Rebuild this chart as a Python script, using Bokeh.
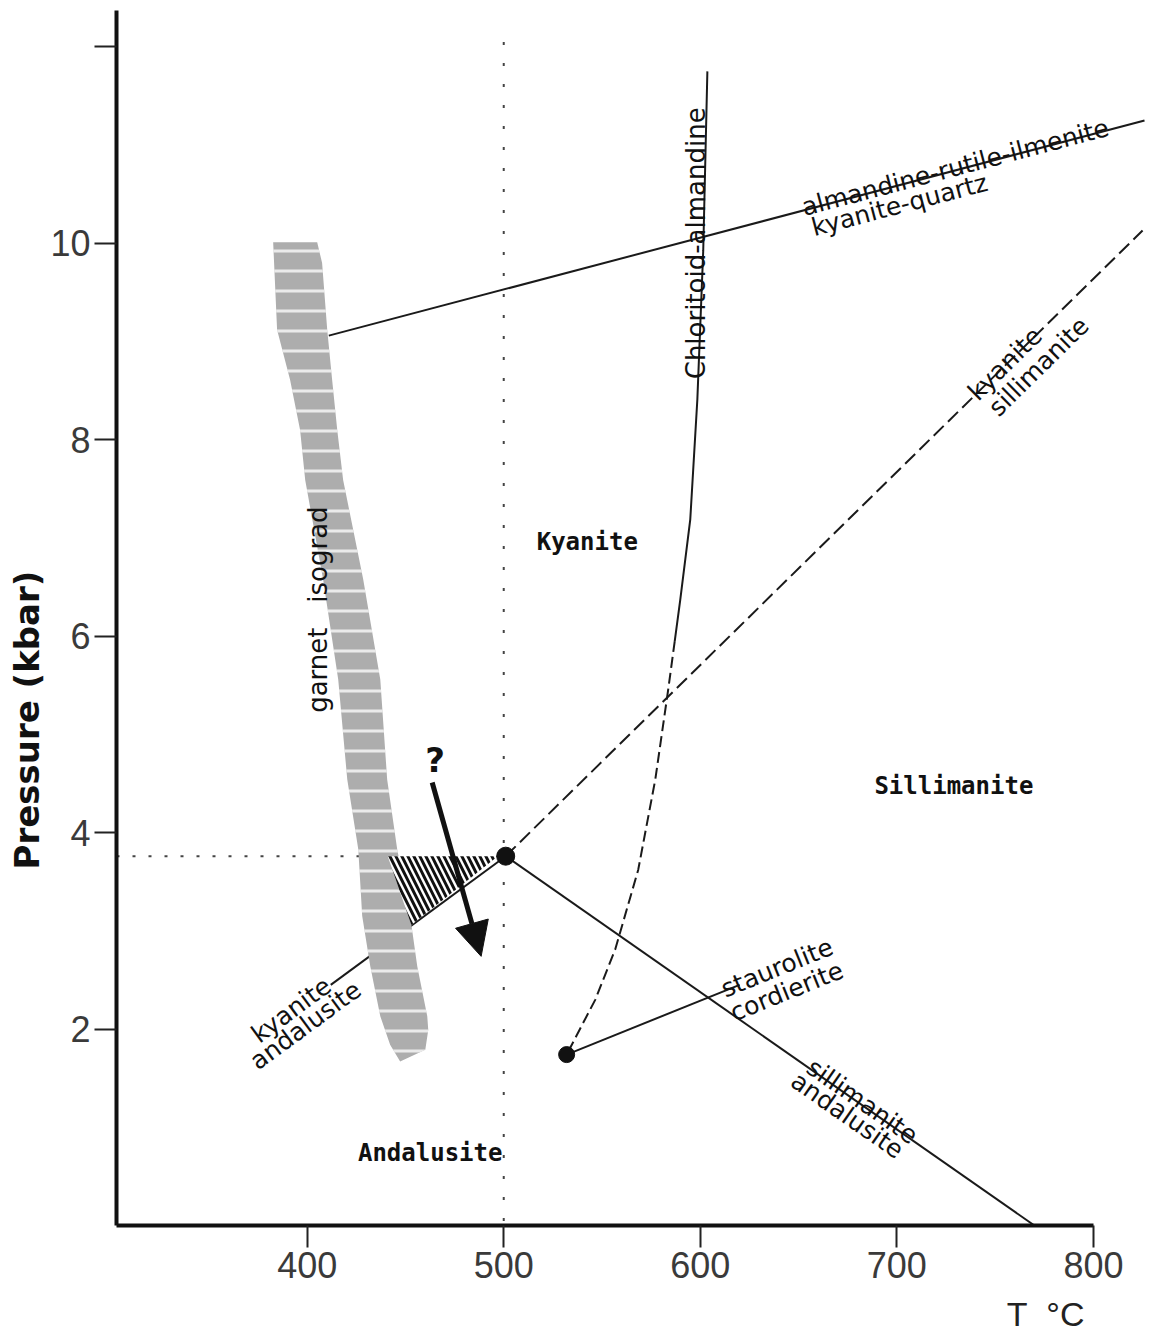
import numpy as np
from bokeh.plotting import figure
from bokeh.models import FixedTicker, Arrow, NormalHead, Range1d, Title
from bokeh.core.properties import value
from bokeh.embed import file_html
from bokeh.resources import INLINE

# ---------------- data (T in °C, P in kbar) ----------------
x_ticks = [400, 500, 600, 700, 800]
y_ticks = [2, 4, 6, 8, 10, 12]

triple_T = [501]
triple_P = [3.76]
lower_T = [532]
lower_P = [1.74]

ky_sil_T = [501, 825]
ky_sil_P = [3.76, 10.13]
sil_and_T = [501, 770]
sil_and_P = [3.76, 0.0]
ky_and_T = [501, 412]
ky_and_P = [3.76, 2.45]
grail_T = [411, 826]
grail_P = [9.06, 11.25]
st_crd_T = [532, 620]
st_crd_P = [1.74, 2.45]

chl_solid_T = [603.6, 601.5, 598.5, 594.9, 589.8, 587.0]
chl_solid_P = [11.75, 9.93, 8.41, 7.19, 6.37, 5.95]
chl_dash_T = [587.0, 583.7, 577.1, 568.4, 556.7, 546.6, 532.0]
chl_dash_P = [5.95, 5.46, 4.54, 3.62, 2.81, 2.30, 1.74]

band_T = [382.7, 384.7, 391.3, 396.4, 399.0, 408.1, 415.8, 420.4, 426.0, 428.0, 432.1,
          437.2, 442.2, 447.3, 460.1, 461.6, 461.1, 456.0, 452.4, 445.8, 440.7, 437.2,
          428.5, 418.3, 415.3, 412.7, 410.2, 407.6, 405.1]
band_P = [10.01, 9.12, 8.61, 8.10, 7.59, 6.58, 5.56, 4.54, 3.83, 3.15, 2.64,
          2.13, 1.84, 1.67, 1.79, 1.99, 2.13, 2.64, 3.15, 3.83, 4.54, 5.56,
          6.58, 7.59, 8.10, 8.61, 9.12, 9.80, 10.01]

hatch_T = [441, 497, 453]
hatch_P = [3.76, 3.76, 3.06]

dot_v_T = [500, 500]
dot_v_P = [12.05, 0.0]
dot_h_T = [303, 441]
dot_h_P = [3.76, 3.76]

arrow_T = [463.6, 488.5]
arrow_P = [4.51, 2.74]

# ---------------- figure ----------------
X0, X1, Y0, Y1 = 303, 827, 0, 12.37
FW, FH = 1030, 1215
sx = FW / (X1 - X0)
sy = FH / (Y1 - Y0)

p = figure(frame_width=FW, frame_height=FH, x_range=Range1d(X0, X1), y_range=Range1d(Y0, Y1),
           output_backend="svg", toolbar_location=None,
           min_border_left=116, min_border_right=2, min_border_top=10, min_border_bottom=112)
p.outline_line_color = None
p.grid.visible = False
p.background_fill_color = "white"
p.border_fill_color = "white"

for ax in (p.xaxis[0], p.yaxis[0]):
    ax.axis_line_width = 4
    ax.axis_line_color = "#111111"
    ax.major_tick_line_width = 2
    ax.major_tick_line_color = "#222222"
    ax.major_tick_out = 22
    ax.major_tick_in = 0
    ax.minor_tick_line_color = None
    ax.major_label_text_font = "Liberation Sans"
    ax.major_label_text_font_size = "36px"
    ax.major_label_text_color = "#3a3a3a"
    ax.major_label_standoff = 4

p.xaxis.ticker = FixedTicker(ticks=x_ticks)
p.xaxis.bounds = (303, 800)
p.yaxis.ticker = FixedTicker(ticks=y_ticks)
p.yaxis.major_label_overrides = {12: ""}

# axis titles, placed like the original (y title low on the axis, x title at right)
p.add_layout(Title(text="Pressure (kbar)", align="left", offset=356,
                   text_font="DejaVu Sans", text_font_size="34px", text_font_style="bold",
                   text_color="#111111", standoff=2), "left")
p.add_layout(Title(text="T\u00a0\u00a0°C", align="right", offset=62,
                   text_font="Liberation Sans", text_font_size="34px", text_font_style="normal",
                   text_color="#222222", standoff=24), "below")

LC = "#1a1a1a"

def ang(T0, P0, T1, P1):
    return np.arctan2((P1 - P0) * sy, (T1 - T0) * sx)

def on_line(Ts, Ps, T):
    return Ps[0] + (Ps[1] - Ps[0]) * (T - Ts[0]) / (Ts[1] - Ts[0])

# dotted guides
p.line(dot_v_T, dot_v_P, line_color="#444444", line_width=2, line_dash="3 18")
p.line(dot_h_T, dot_h_P, line_color="#444444", line_width=2, line_dash="3 13")

# reaction lines
p.line(ky_and_T, ky_and_P, line_color=LC, line_width=2)
p.line(sil_and_T, sil_and_P, line_color=LC, line_width=2)
p.line(ky_sil_T, ky_sil_P, line_color=LC, line_width=2, line_dash="14 6")
p.line(grail_T, grail_P, line_color=LC, line_width=2)
p.line(st_crd_T, st_crd_P, line_color=LC, line_width=2)
p.line(chl_solid_T, chl_solid_P, line_color=LC, line_width=2)
p.line(chl_dash_T, chl_dash_P, line_color=LC, line_width=2, line_dash="11 5")

# garnet isograd band
p.patch(band_T, band_P, fill_color="#adadad", line_color=None,
        hatch_pattern="-", hatch_color="white", hatch_weight=3, hatch_scale=20, hatch_alpha=0.75)

# hatched triangle
p.patch(hatch_T, hatch_P, fill_color="white", line_color=None,
        hatch_pattern="\\", hatch_color="#111111", hatch_weight=3, hatch_scale=12)

# points
p.scatter(triple_T, triple_P, size=18, color="#111111")
p.scatter(lower_T, lower_P, size=16, color="#111111")

# arrow
p.add_layout(Arrow(end=NormalHead(size=34, fill_color="#111111", line_color="#111111"),
                   x_start=arrow_T[0], y_start=arrow_P[0], x_end=arrow_T[1], y_end=arrow_P[1],
                   line_width=5, line_color="#111111"))

def lab(x, y, txt, angle=0.0, align="center", baseline="middle", size="25px",
        font="DejaVu Sans", style="normal"):
    p.text(x=[x], y=[y], text=[txt], angle=angle, text_align=align, text_baseline=baseline,
           text_font=value(font), text_font_size=value(size), text_font_style=style,
           text_color="#111111")

# line labels
a_gr = ang(grail_T[0], grail_P[0], grail_T[1], grail_P[1])
lab(651.9, on_line(grail_T, grail_P, 651.9) + 0.03, "almandine-rutile-ilmenite", a_gr, "left", "alphabetic")
lab(655.0, on_line(grail_T, grail_P, 655.0) - 0.05, "kyanite-quartz", a_gr, "left", "top")

lab(597.8, 10.0, "Chloritoid-almandine", np.pi / 2, "center", "alphabetic", "26px")
lab(405.4, 6.27, "garnet\u00a0\u00a0\u00a0isograd", np.pi / 2, "center", "middle", "26px")

a_ks = ang(ky_sil_T[0], ky_sil_P[0], ky_sil_T[1], ky_sil_P[1])
lab(755.0, on_line(ky_sil_T, ky_sil_P, 755.0) + 0.02, "kyanite", a_ks, "center", "alphabetic")
lab(767.0, on_line(ky_sil_T, ky_sil_P, 767.0) - 0.14, "sillimanite", a_ks, "center", "top")

a_sa = ang(sil_and_T[0], sil_and_P[0], sil_and_T[1], sil_and_P[1])
lab(682.4, on_line(sil_and_T, sil_and_P, 682.4) + 0.04, "sillimanite", a_sa, "center", "alphabetic")
lab(679.0, on_line(sil_and_T, sil_and_P, 679.0) - 0.03, "andalusite", a_sa, "center", "top")

a_sc = ang(st_crd_T[0], st_crd_P[0], st_crd_T[1], st_crd_P[1])
lab(611.2, on_line(st_crd_T, st_crd_P, 611.2) + 0.02, "staurolite", a_sc, "left", "alphabetic")
lab(613.0, on_line(st_crd_T, st_crd_P, 613.0) - 0.10, "cordierite", a_sc, "left", "top")

a_ka = ang(ky_and_T[1], ky_and_P[1], ky_and_T[0], ky_and_P[0])
lab(410.7, on_line(ky_and_T, ky_and_P, 410.7) + 0.04, "kyanite", a_ka, "right", "alphabetic")
lab(421.5, on_line(ky_and_T, ky_and_P, 421.5) - 0.04, "andalusite", a_ka, "right", "top")

# region labels
lab(542.5, 6.96, "Kyanite", 0, "center", "middle", "24px", "DejaVu Sans Mono", "bold")
lab(729.0, 4.47, "Sillimanite", 0, "center", "middle", "24px", "DejaVu Sans Mono", "bold")
lab(462.6, 0.74, "Andalusite", 0, "center", "middle", "24px", "DejaVu Sans Mono", "bold")
lab(465.1, 4.74, "?", 0, "center", "middle", "34px", "DejaVu Sans", "bold")

open("out.html", "w").write(file_html(p, INLINE))
